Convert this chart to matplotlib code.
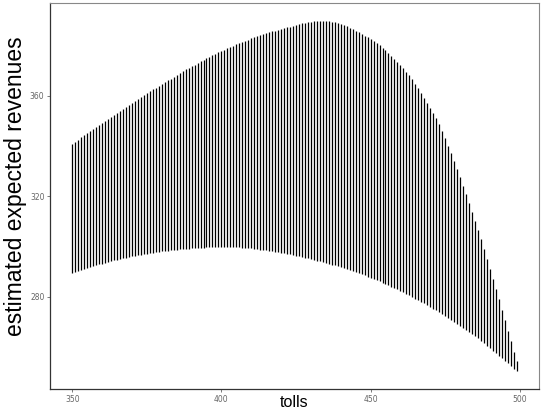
import matplotlib
matplotlib.use("Agg")
import matplotlib.pyplot as plt

# tolls 350 .. 499, one bar per toll
tolls = list(range(350, 500))

# upper end of each bar
upper = [
    340.9, 341.8, 342.6, 343.5, 344.3, 345.2, 346.0, 346.8, 347.7, 348.5,
    349.3, 350.1, 350.9, 351.7, 352.5, 353.3, 354.1, 354.9, 355.7, 356.5,
    357.2, 358.0, 358.8, 359.5, 360.3, 361.0, 361.8, 362.5, 363.2, 364.0,
    364.7, 365.4, 366.1, 366.8, 367.5, 368.2, 369.1, 369.8, 370.5, 371.1,
    371.8, 372.4, 373.1, 373.7, 374.3, 374.9, 375.5, 376.1, 376.7, 377.2,
    377.8, 378.3, 378.9, 379.4, 379.9, 380.4, 380.9, 381.4, 381.9, 382.3,
    382.8, 383.2, 383.6, 384.0, 384.4, 384.8, 385.2, 385.6, 385.9, 386.3,
    386.6, 386.9, 387.2, 387.5, 387.8, 388.1, 388.5, 388.8, 389.1, 389.3,
    389.5, 389.7, 389.8, 389.9, 389.9, 389.8, 389.7, 389.5, 389.2, 388.9,
    388.5, 388.1, 387.6, 387.1, 386.5, 385.9, 385.3, 384.6, 383.9, 383.5,
    382.7, 381.8, 380.9, 380.0, 379.0, 378.0, 377.0, 375.9, 374.8, 373.6,
    372.4, 371.1, 369.6, 368.1, 366.5, 364.8, 363.0, 361.2, 359.3, 357.3,
    355.3, 353.2, 351.0, 348.8, 346.0, 343.1, 340.2, 337.2, 334.1, 330.9,
    327.6, 324.3, 320.9, 317.4, 313.9, 310.3, 306.6, 302.9, 299.1, 295.2,
    291.3, 287.3, 283.3, 279.2, 275.0, 270.8, 266.5, 262.4, 258.3, 254.4,
]

# lower end of each bar
lower = [
    289.4, 289.8, 290.3, 290.7, 291.1, 291.5, 291.9, 292.3, 292.6, 293.0,
    293.3, 293.6, 294.0, 294.3, 294.6, 294.9, 295.1, 295.4, 295.7, 295.9,
    296.2, 296.4, 296.6, 296.8, 297.0, 297.2, 297.4, 297.6, 297.8, 297.9,
    298.1, 298.2, 298.4, 298.5, 298.7, 298.8, 298.9, 299.0, 299.1, 299.2,
    299.3, 299.4, 299.5, 299.6, 299.6, 299.7, 299.7, 299.8, 299.8, 299.8,
    299.9, 299.9, 299.8, 299.8, 299.8, 299.7, 299.7, 299.6, 299.5, 299.4,
    299.3, 299.1, 299.0, 298.8, 298.7, 298.5, 298.3, 298.1, 297.9, 297.7,
    297.5, 297.3, 297.1, 296.9, 296.7, 296.4, 296.2, 296.0, 295.7, 295.4,
    295.1, 294.8, 294.5, 294.2, 293.9, 293.6, 293.3, 292.9, 292.6, 292.2,
    291.9, 291.5, 291.1, 290.7, 290.3, 289.9, 289.5, 289.0, 288.6, 288.1,
    287.7, 287.2, 286.7, 286.2, 285.7, 285.2, 284.7, 284.1, 283.6, 283.0,
    282.5, 281.9, 281.3, 280.7, 280.1, 279.4, 278.8, 278.1, 277.5, 276.8,
    276.1, 275.4, 274.7, 274.0, 273.2, 272.5, 271.7, 271.0, 270.2, 269.4,
    268.6, 267.8, 267.0, 266.2, 265.3, 264.5, 263.6, 262.6, 261.6, 260.6,
    259.6, 258.6, 257.6, 256.6, 255.6, 254.6, 253.6, 252.6, 251.5, 250.4,
]

x_ticks = [350, 400, 450, 500]
y_ticks = [280, 320, 360]

fig = plt.figure(figsize=(5.45, 4.09), dpi=100)
ax = fig.add_axes([50 / 545, 20 / 409, 489 / 545, 386 / 409])

ax.vlines(tolls, lower, upper, color="black", linewidth=0.9)

# ggplot-style 5% expansion
xr = max(tolls) - min(tolls)
ax.set_xlim(min(tolls) - 0.05 * xr, max(tolls) + 0.05 * xr)
ymin, ymax = min(lower), max(upper)
yr = ymax - ymin
ax.set_ylim(ymin - 0.05 * yr, ymax + 0.05 * yr)

ax.set_xticks(x_ticks)
ax.set_yticks(y_ticks)
ax.tick_params(labelsize=5.5, labelcolor="#666666", color="#666666",
               length=2, width=0.6, pad=2)

for side in ["left", "bottom"]:
    ax.spines[side].set_color("#333333")
    ax.spines[side].set_linewidth(0.9)
for side in ["top", "right"]:
    ax.spines[side].set_color("#888888")
    ax.spines[side].set_linewidth(0.8)

ax.set_xlabel("tolls", fontsize=11.5, family="Liberation Sans")
ax.xaxis.set_label_coords(0.5, -0.016)
ax.set_ylabel("estimated expected revenues", fontsize=16.5,
              family="Liberation Sans")
ax.yaxis.set_label_coords(-0.048, 0.525)

fig.savefig("out.png", dpi=100)
